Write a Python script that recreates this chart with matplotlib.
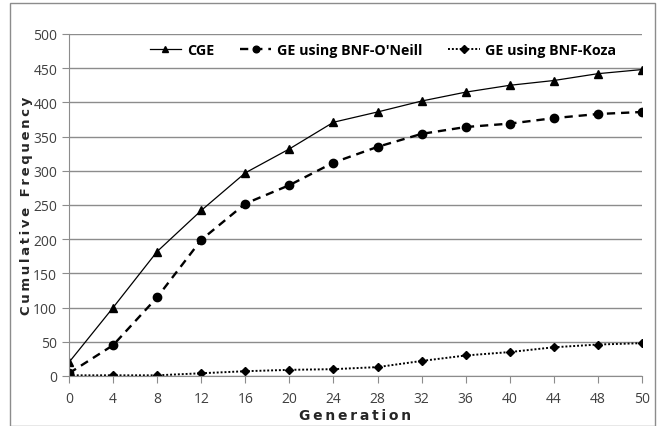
import matplotlib
matplotlib.use("Agg")
import matplotlib.pyplot as plt
from matplotlib.patches import Rectangle

# Dane z wykresu
generacje = ["0", "4", "8", "12", "16", "20", "24", "28", "32", "36", "40", "44", "48", "50"]
cge = [20, 100, 182, 242, 297, 332, 371, 386, 402, 415, 425, 432, 442, 448]
ge_oneill = [4, 45, 115, 199, 252, 279, 312, 335, 354, 364, 369, 377, 383, 386]
ge_koza = [1, 1, 1, 4, 7, 9, 10, 13, 22, 30, 35, 42, 46, 48]

y_ticks = [0, 50, 100, 150, 200, 250, 300, 350, 400, 450, 500]

# rozstrzelony tekst (jak w Excelu)
def rozstrzel(tekst):
    return "\u2009".join(tekst).replace("\u2009 \u2009", "\u2009\u2009\u2009\u2009")

fig = plt.figure(figsize=(6.6, 4.27), dpi=100)
ax = fig.add_axes([69 / 660, 1 - 377 / 427, (642 - 69) / 660, (377 - 35) / 427])

# ramka wokol calego obrazka
fig.patches.append(Rectangle((10 / 660, 0.0), 645 / 660, 1 - 4 / 427,
                             transform=fig.transFigure, fill=False,
                             edgecolor="#8c8c8c", linewidth=1.0))

x = list(range(len(generacje)))
ax.plot(x, cge, color="black", linewidth=0.9, marker="^", markersize=6,
        label="CGE")
ax.plot(x, ge_oneill, color="black", linewidth=1.7, linestyle=(0, (3.5, 2.5)),
        marker="o", markersize=6, label="GE using BNF-O'Neill")
ax.plot(x, ge_koza, color="black", linewidth=1.4, linestyle=(0, (1, 1)),
        marker="D", markersize=4.5, label="GE using BNF-Koza")

ax.set_xlim(0, len(generacje) - 1)
ax.set_ylim(0, 500)
ax.set_xticks(x)
ax.set_xticklabels(generacje)
ax.set_yticks(y_ticks)

ax.grid(True, axis="y", color="#8c8c8c", linewidth=1.0)
ax.set_axisbelow(True)
for s in ["top", "right"]:
    ax.spines[s].set_visible(False)
for s in ["left", "bottom"]:
    ax.spines[s].set_color("#8c8c8c")
ax.tick_params(axis="both", colors="#8c8c8c", labelcolor="#404040",
               labelsize=10, length=5, direction="out")
ax.tick_params(axis="x", pad=6)
for lab in ax.get_xticklabels() + ax.get_yticklabels():
    lab.set_family("Open Sans")

ax.set_ylabel(rozstrzel("Cumulative Frequency"), fontsize=9.5,
              fontweight="bold", color="#262626", labelpad=0)
ax.set_xlabel(rozstrzel("Generation"), fontsize=10, fontweight="bold",
              color="#262626", labelpad=1)

ax.legend(loc="center", bbox_to_anchor=((383 - 69) / 573, (377 - 51) / 342),
          ncol=3, frameon=False, handlelength=2.2, columnspacing=1.8,
          handletextpad=0.4, markerscale=0.8,
          prop={"family": "Open Sans", "weight": "bold", "size": 10.3})

fig.savefig("out.png", dpi=100)
